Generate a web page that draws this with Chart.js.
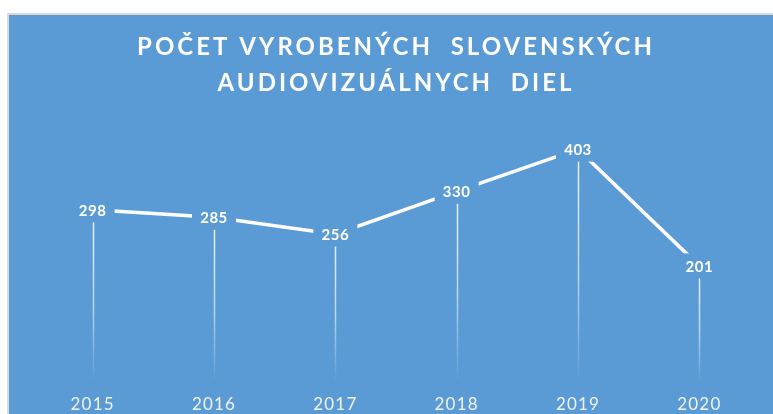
<!DOCTYPE html>
<html>
<head>
<meta charset="utf-8">
<script src="https://cdn.jsdelivr.net/npm/chart.js@4/dist/chart.umd.min.js"></script>
<style>
  html, body { margin: 0; padding: 0; background: #ffffff; width: 773px; height: 414px; overflow: hidden; }
  #frame { position: absolute; left: 7px; top: 13px; width: 780px; height: 420px; border: 2px solid #D9D9D9; background: #5B9BD5; }
  #wrap { position: absolute; left: 0; top: 0; width: 764px; height: 399px; }
</style>
</head>
<body>
<div id="frame"><div id="wrap"><canvas id="c" width="764" height="399"></canvas></div></div>
<script>
const titleLines = ['POČET VYROBENÝCH  SLOVENSKÝCH', 'AUDIOVIZUÁLNYCH  DIEL'];
const years = ['2015', '2016', '2017', '2018', '2019', '2020'];
const works = [298, 285, 256, 330, 403, 201];

const BLUE = '#5B9BD5';

const textSpacing = {
  id: 'textSpacing',
  beforeDraw(chart) { chart.ctx.letterSpacing = '1.2px'; },
  afterInit(chart) {
    const tb = chart.titleBlock;
    if (!tb || tb._wrapped) return;
    const orig = tb.draw;
    tb.draw = function () {
      const ctx = chart.ctx;
      ctx.save();
      ctx.letterSpacing = '3px';
      orig.apply(this, arguments);
      ctx.restore();
    };
    tb._wrapped = true;
  }
};

const dropLines = {
  id: 'dropLines',
  beforeDatasetsDraw(chart) {
    const ctx = chart.ctx;
    const meta = chart.getDatasetMeta(0);
    const y0 = chart.scales.y.getPixelForValue(0);
    ctx.save();
    meta.data.forEach(pt => {
      const g = ctx.createLinearGradient(0, pt.y, 0, y0);
      g.addColorStop(0, 'rgba(255,255,255,0.9)');
      g.addColorStop(0.55, 'rgba(255,255,255,0.6)');
      g.addColorStop(1, 'rgba(255,255,255,0)');
      ctx.strokeStyle = g;
      ctx.lineWidth = 1.5;
      ctx.beginPath();
      ctx.moveTo(Math.round(pt.x) + 0.5, pt.y);
      ctx.lineTo(Math.round(pt.x) + 0.5, y0);
      ctx.stroke();
    });
    ctx.restore();
  }
};

const dataLabels = {
  id: 'dataLabels',
  afterDatasetsDraw(chart) {
    const ctx = chart.ctx;
    const meta = chart.getDatasetMeta(0);
    ctx.save();
    ctx.letterSpacing = '0.5px';
    ctx.font = 'bold 15px Lato';
    ctx.textAlign = 'center';
    ctx.textBaseline = 'middle';
    meta.data.forEach((pt, i) => {
      ctx.fillStyle = BLUE;
      ctx.fillRect(pt.x - 22, pt.y - 12.5, 44, 25);
      ctx.fillStyle = '#FFFFFF';
      ctx.fillText(String(works[i]), pt.x, pt.y + 1);
    });
    ctx.restore();
  }
};

new Chart(document.getElementById('c'), {
  type: 'line',
  data: {
    labels: years,
    datasets: [{
      data: works,
      borderColor: '#FFFFFF',
      borderWidth: 3.5,
      pointRadius: 0,
      pointHoverRadius: 0,
      tension: 0,
      fill: false
    }]
  },
  options: {
    responsive: false,
    animation: false,
    devicePixelRatio: 1,
    layout: { padding: { left: 23, right: 13, top: 0, bottom: 0 } },
    plugins: {
      legend: { display: false },
      tooltip: { enabled: false },
      title: {
        display: true,
        text: titleLines,
        color: '#FFFFFF',
        font: { family: 'Lato', size: 24, weight: 'bold', lineHeight: 1.48 },
        padding: { top: 15, bottom: 21 }
      }
    },
    scales: {
      x: {
        offset: true,
        grid: { display: false, drawTicks: false },
        border: { display: false },
        ticks: { color: '#F2F2F2', font: { family: 'Lato', size: 17 }, padding: 12 },
        afterFit(scale) { scale.height = 32; }
      },
      y: {
        display: false,
        min: 0,
        max: 450
      }
    }
  },
  plugins: [textSpacing, dropLines, dataLabels]
});
</script>
</body>
</html>
